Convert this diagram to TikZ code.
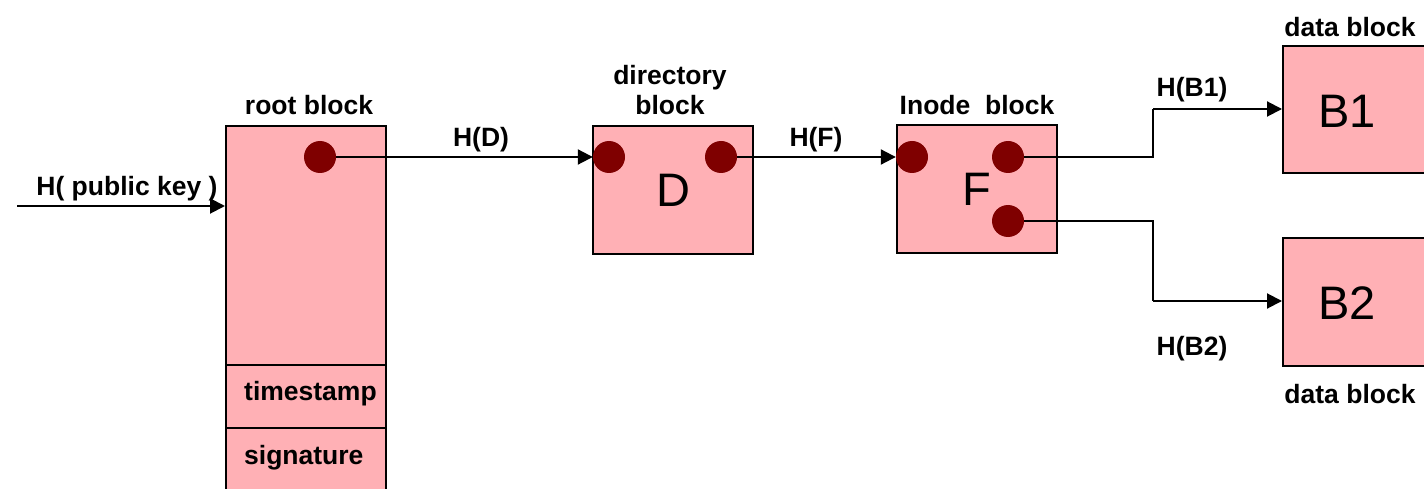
\documentclass[tikz,border=0pt]{standalone}
\usepackage{fontspec}
\setmainfont{Liberation Sans}
\usetikzlibrary{arrows.meta}
\definecolor{blockfill}{HTML}{FFB0B5}
\definecolor{ptrdot}{HTML}{7F0000}
\tikzset{
  blockbox/.style={draw=black, line width=2.4pt, fill=blockfill, inner sep=0pt},
  ptr/.style={circle, fill=ptrdot, draw=none, minimum size=32pt, inner sep=0pt},
  lbl/.style={font=\fontsize{26.5}{30}\selectfont\bfseries, inner sep=0pt, align=center},
  big/.style={font=\fontsize{47}{50}\selectfont},
  link/.style={line width=2pt, -{Triangle[length=15pt,width=15pt]}},
  plain/.style={line width=2pt}
}
\begin{document}
\begin{tikzpicture}[x=1pt, y=-1pt]
\useasboundingbox (0,0) rectangle (1424,489);
\clip (0,0) rectangle (1424,489);

% root block with timestamp and signature fields
\node[blockbox, minimum width=160pt, minimum height=380pt, anchor=north west] (root) at (225,125) {};
\draw[line width=2.4pt] (225,365) -- (385,365);
\draw[line width=2.4pt] (225,428) -- (385,428);
\node[lbl, anchor=west] (ts) at (244,394) {timestamp};
\node[lbl, anchor=west] (sig) at (244,458) {signature};
\node[lbl] (rootlbl) at (309,105) {root block};

% directory block
\node[blockbox, minimum width=160pt, minimum height=128pt, big] (D) at (673,190) {D};
\node[lbl] (dirlbl) at (670,90) {directory\\block};

% inode block
\node[blockbox, minimum width=160pt, minimum height=128pt, big] (F) at (977,189) {F};
\node[lbl] (inlbl) at (977,105) {Inode\ \ block};

% data blocks
\node[blockbox, minimum width=160pt, minimum height=127pt, anchor=north west] (B1) at (1282,45) {};
\node[big] (B1t) at (1347,111) {B1};
\node[blockbox, minimum width=160pt, minimum height=128pt, anchor=north west] (B2) at (1282,237) {};
\node[big] (B2t) at (1347,303) {B2};
\node[lbl] (d1lbl) at (1350,27) {data block};
\node[lbl] (d2lbl) at (1350,394) {data block};

% pointer dots
\node[ptr] (r1) at (320,157) {};
\node[ptr] (d1) at (609,157) {};
\node[ptr] (d2) at (721,157) {};
\node[ptr] (f1) at (912,157) {};
\node[ptr] (f2) at (1008,157) {};
\node[ptr] (f3) at (1008,221) {};

% hash links
\coordinate (pk) at (17,206);
\draw[link] (pk) -- (pk -| root.west);
\node[lbl] (pklbl) at (127,189) {H( public key )};

\draw[link] (r1.east) -- (d1.west);
\node[lbl] (hd) at (481,140) {H(D)};

\draw[link] (d2.east) -- (f1.west);
\node[lbl] (hf) at (816,140) {H(F)};

\coordinate (j1) at (1153,109);
\draw[plain] (f2.east) -| (j1);
\draw[link] (j1) -- (j1 -| B1.west);
\node[lbl] (hb1) at (1192,90) {H(B1)};

\coordinate (j2) at (1153,301);
\draw[plain] (f3.east) -| (j2);
\draw[link] (j2) -- (j2 -| B2.west);
\node[lbl] (hb2) at (1192,349) {H(B2)};
\end{tikzpicture}
\end{document}
